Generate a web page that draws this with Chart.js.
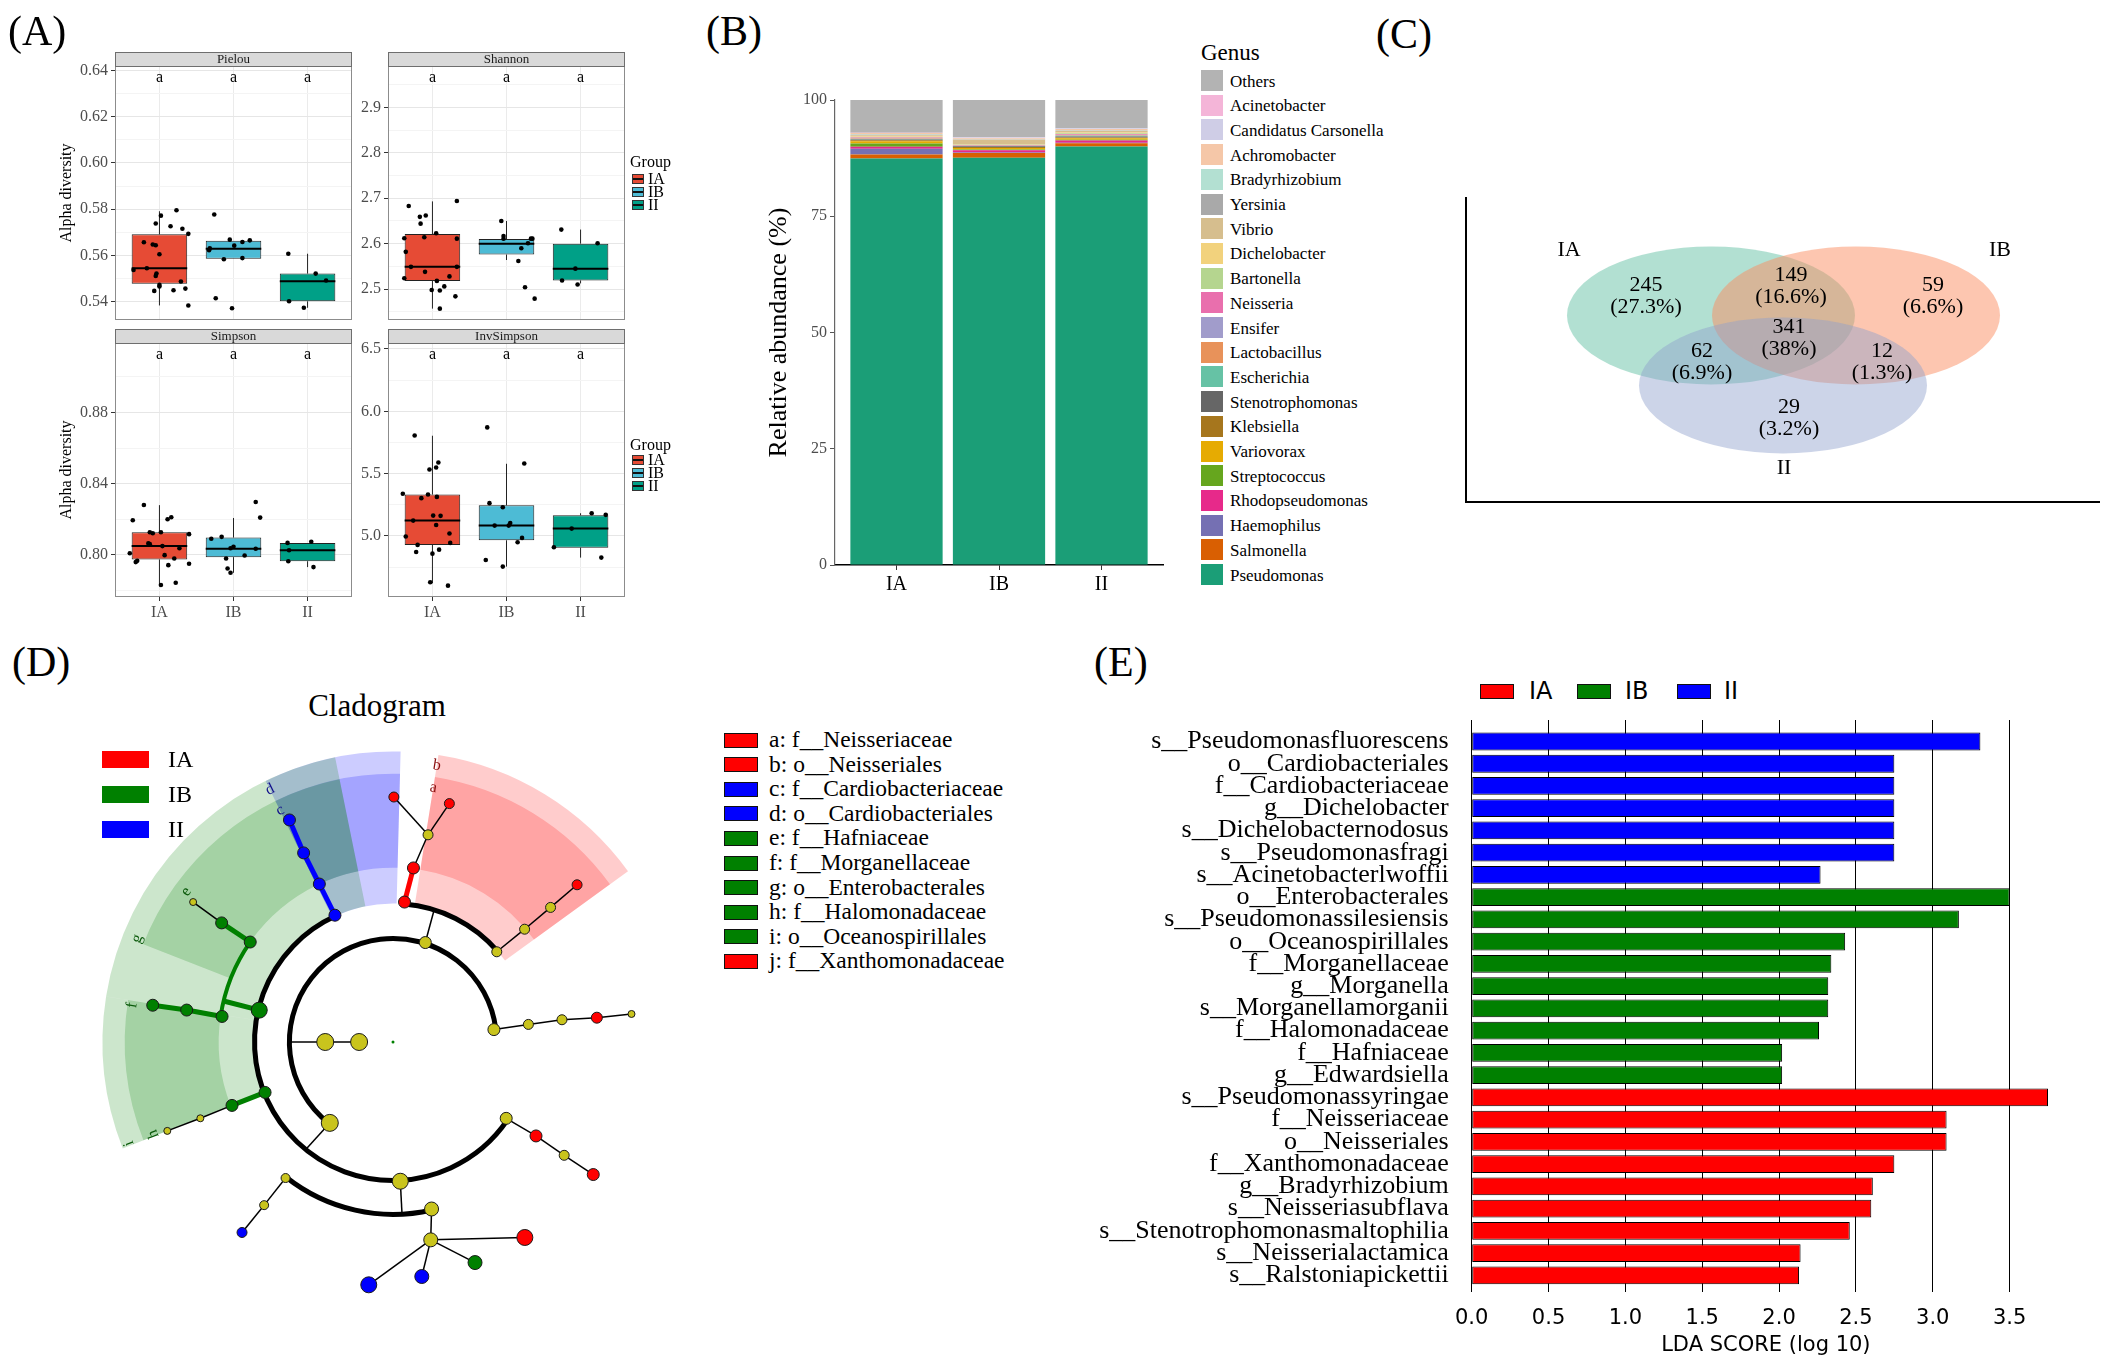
<!DOCTYPE html>
<html lang="en">
<head>
<meta charset="utf-8">
<title>Alpha diversity, genus composition, Venn, cladogram and LEfSe</title>
<script src="https://cdn.jsdelivr.net/npm/chart.js@4.4.1/dist/chart.umd.min.js"></script>
<style>
  html, body { margin: 0; background: #fff; }
  #fig { position: relative; width: 2104px; height: 1362px; overflow: hidden;
         font-family: "Liberation Serif", "Times New Roman", serif; color: #000; }
  #fig canvas { position: absolute; }
  .t { position: absolute; white-space: nowrap; line-height: 1; }
  .sw { position: absolute; box-sizing: border-box; }
  .gkey { position: absolute; box-sizing: border-box; width: 12px; height: 10px; border: 1px solid #333; }
  .gkey::after { content: ""; position: absolute; left: 0; right: 0; top: 3px; height: 1.5px; background: #111; }
</style>
</head>
<body>
<div id="fig">
  <canvas id="pielou" width="303" height="300" style="left:57px;top:40px"></canvas>
  <canvas id="shannon" width="283" height="300" style="left:350px;top:40px"></canvas>
  <canvas id="simpson" width="303" height="313" style="left:57px;top:317px"></canvas>
  <canvas id="invsimpson" width="283" height="313" style="left:350px;top:317px"></canvas>
  <canvas id="abund" width="410" height="520" style="left:760px;top:80px"></canvas>
  <canvas id="venn" width="658" height="330" style="left:1446px;top:180px"></canvas>
  <canvas id="clado" width="600" height="600" style="left:93px;top:742px"></canvas>
  <canvas id="lda" width="980" height="652" style="left:1085px;top:710px"></canvas>
</div>
<script>
// ---------- (A) alpha diversity ----------
const groups = ['IA', 'IB', 'II'];
const groupColors = ['#E64B35', '#4DBBD5', '#00A087'];
const sigLetters = ['a', 'a', 'a'];

const pielouTicks = [0.54, 0.56, 0.58, 0.60, 0.62, 0.64];
const pielouQ1 = [0.5477, 0.5585, 0.5401];
const pielouMed = [0.5544, 0.5629, 0.5488];
const pielouQ3 = [0.5691, 0.5663, 0.5521];
const pielouLo = [0.5383, 0.5585, 0.5373];
const pielouHi = [0.5791, 0.5663, 0.5607];
const pielouPts = [
  [0.5795, 0.5772, 0.5738, 0.5726, 0.5715, 0.5693, 0.5657, 0.5647, 0.5644, 0.5605, 0.5537, 0.5544, 0.5521, 0.5511, 0.5487, 0.5472, 0.5465, 0.5446, 0.5449, 0.5456, 0.5383],
  [0.5777, 0.5622, 0.5631, 0.5668, 0.5642, 0.5658, 0.5665, 0.5583, 0.5588, 0.5414, 0.5371],
  [0.5607, 0.5521, 0.5491, 0.5401, 0.5373]
];
const pielouJit = [
  [0.23, 0.02, -0.05, 0.15, 0.31, 0.39, -0.21, -0.09, -0.05, 0, -0.35, -0.17, -0.04, -0.05, 0.29, 0, 0, -0.07, 0.19, 0.35, 0.39],
  [-0.26, -0.33, -0.32, -0.05, 0.01, 0.12, 0.22, -0.13, 0.12, -0.24, -0.02],
  [-0.26, 0.11, 0.25, -0.25, -0.05]
];

const shannonTicks = [2.5, 2.6, 2.7, 2.8, 2.9];
const shannonQ1 = [2.518, 2.576, 2.519];
const shannonMed = [2.549, 2.600, 2.545];
const shannonQ3 = [2.621, 2.610, 2.600];
const shannonLo = [2.457, 2.564, 2.5125];
const shannonHi = [2.693, 2.650, 2.631];
const shannonPts = [
  [2.683, 2.659, 2.662, 2.644, 2.694, 2.623, 2.614, 2.612, 2.611, 2.582, 2.549, 2.549, 2.538, 2.524, 2.528, 2.518, 2.498, 2.497, 2.506, 2.484, 2.457],
  [2.650, 2.617, 2.611, 2.590, 2.601, 2.611, 2.611, 2.562, 2.504, 2.479],
  [2.631, 2.601, 2.545, 2.519, 2.510]
];
const shannonJit = [
  [-0.32, -0.17, -0.09, -0.16, 0.33, 0.05, -0.11, -0.38, 0.33, -0.36, -0.29, 0.33, -0.10, -0.38, 0.23, 0.06, -0.01, 0.10, 0.16, 0.31, 0.10],
  [-0.07, -0.04, -0.04, 0.2, 0.29, 0.33, 0.35, 0.16, 0.25, 0.38],
  [-0.26, 0.23, -0.07, -0.25, -0.04]
];

const simpsonTicks = [0.80, 0.84, 0.88];
const simpsonQ1 = [0.7974, 0.7987, 0.7964];
const simpsonMed = [0.8050, 0.8034, 0.8026];
const simpsonQ3 = [0.8127, 0.8097, 0.8067];
const simpsonLo = [0.7830, 0.7899, 0.7931];
const simpsonHi = [0.8279, 0.8207, 0.8067];
const simpsonPts = [
  [0.8280, 0.8194, 0.8200, 0.8211, 0.8127, 0.8121, 0.8127, 0.8116, 0.8064, 0.8060, 0.8049, 0.8037, 0.8009, 0.7998, 0.7979, 0.7966, 0.7959, 0.7950, 0.7942, 0.7830, 0.7843],
  [0.8297, 0.8209, 0.8090, 0.8101, 0.8045, 0.8037, 0.8034, 0.7996, 0.7979, 0.7923, 0.7899],
  [0.8067, 0.8073, 0.8026, 0.7964, 0.7931]
];
const simpsonJit = [
  [-0.21, -0.36, 0.11, 0.16, -0.13, -0.09, 0.02, 0.40, -0.15, -0.13, 0.04, 0.27, -0.40, 0.07, 0.20, -0.30, -0.32, 0.40, 0.12, 0.02, 0.22],
  [0.30, 0.36, -0.30, -0.16, 0, -0.04, 0.30, 0.15, -0.10, -0.08, -0.04],
  [-0.27, 0.05, -0.25, -0.26, 0.08]
];

const invTicks = [5.0, 5.5, 6.0, 6.5];
const invQ1 = [4.928, 4.965, 4.906];
const invMed = [5.123, 5.083, 5.059];
const invQ3 = [5.332, 5.246, 5.166];
const invLo = [4.620, 4.754, 4.826];
const invHi = [5.804, 5.579, 5.182];
const invPts = [
  [5.806, 5.533, 5.549, 5.589, 5.338, 5.303, 5.332, 5.313, 5.123, 5.163, 5.161, 5.088, 4.995, 5.019, 4.928, 4.944, 4.871, 4.890, 4.858, 4.628, 4.601],
  [5.871, 5.581, 5.263, 5.230, 5.083, 5.104, 5.083, 4.984, 4.949, 4.807, 4.754],
  [5.182, 5.169, 5.059, 4.909, 4.826]
];
const invJit = [
  [-0.24, -0.04, 0.05, 0.08, -0.40, -0.15, -0.06, 0.06, -0.26, 0.01, 0.11, 0.05, -0.36, 0.23, -0.20, 0.24, -0.22, 0.09, 0, -0.03, 0.21],
  [-0.26, 0.24, -0.23, -0.05, -0.16, 0.05, 0.03, 0.21, 0.15, -0.28, -0.05],
  [0.15, 0.34, -0.12, -0.36, 0.28]
];

// ---------- (B) genus composition, legend order (top -> bottom) ----------
const genusNames = ['Others', 'Acinetobacter', 'Candidatus Carsonella', 'Achromobacter', 'Bradyrhizobium', 'Yersinia',
  'Vibrio', 'Dichelobacter', 'Bartonella', 'Neisseria', 'Ensifer', 'Lactobacillus', 'Escherichia', 'Stenotrophomonas',
  'Klebsiella', 'Variovorax', 'Streptococcus', 'Rhodopseudomonas', 'Haemophilus', 'Salmonella', 'Pseudomonas'];
const genusColors = ['#b3b3b3', '#f4b5d8', '#cfcde6', '#f5c7a8', '#b3e0d2', '#a9a9a9', '#d6be8e', '#f2d27d', '#b5d58f',
  '#e96fad', '#a19ccb', '#e8925a', '#66c2a5', '#666666', '#a6761d', '#e6ab02', '#66a61e', '#e7298a', '#7570b3', '#d95f02', '#1b9e77'];
const abundIA = [7.02, 0.05, 0.05, 0.25, 0.1, 0.1, 0.3, 0.1, 0.1, 0.1, 0.1, 0.1, 0.1, 0.2, 0.2, 0.5, 0.7, 0.43, 1.2, 0.9, 87.4];
const abundIB = [8.0, 0.05, 0.2, 0.2, 0.05, 0.05, 1.0, 0.1, 0.05, 0.1, 0.05, 0.05, 0.05, 0.15, 0.2, 0.35, 0.15, 0.5, 0.1, 1.0, 87.6];
const abundII = [6.05, 0.05, 0.15, 0.3, 0.05, 0.05, 0.35, 0.15, 0.2, 0.2, 0.05, 0.1, 0.15, 0.2, 0.15, 0.35, 0.15, 0.5, 0.1, 0.7, 90.0];
const abundTicks = [0, 25, 50, 75, 100];

// ---------- (C) Venn ----------
const vennSets = ['IA', 'IB', 'II'];
const vennCounts = [245, 149, 59, 62, 341, 12, 29];   // IA, IA&IB, IB, IA&II, all, IB&II, II
const vennShare = ['27.3%', '16.6%', '6.6%', '6.9%', '38%', '1.3%', '3.2%'];

// ---------- (D) cladogram: nodes as (radius, angle in degrees) ----------
const cladeR = [0, 35, 70, 108, 106, 105, 145, 181, 217, 253, 253, 142, 179, 214, 250, 141, 176, 212, 248,
  144, 180, 216, 253, 142, 178.5, 215.6, 251, 180, 215.5, 252, 142, 178.7, 214, 250.5, 144, 179, 214.7, 251,
  177, 208, 243.5, 243, 244, 252, 141, 176.7, 212, 248, 107, 143, 141, 180, 178];
const cladeTheta = [0, 180, 180, 72, 232, 7, 85.3, 83.3, 80.4, 89.8, 76.7, 41, 40.6, 40.5, 40.5, 7.4, 7.5, 6.8, 6.7,
  114.6, 115, 115.3, 115, 166.6, 171.5, 171.2, 171.3, 145, 145.2, 145, 201.5, 201.5, 201.6, 201.5, 273, 231.7, 231.7, 231.6,
  283, 280.8, 304, 290.4, 277, 264.3, 326, 326.7, 326.5, 326.5, 180, 72.7, 231, 166.4, 273];
const cladeGroup = ['IB', 'y', 'y', 'y', 'y', 'y', 'IA', 'IA', 'y', 'IA', 'IA', 'y', 'y', 'y', 'IA', 'y', 'y', 'IA', 'y',
  'II', 'II', 'II', 'II', 'IB', 'IB', 'IB', 'IB', 'IB', 'IB', 'y', 'IB', 'IB', 'y', 'y', 'y', 'y', 'y', 'II',
  'y', 'y', 'IA', 'IB', 'II', 'II', 'y', 'IA', 'y', 'IA', '-', '-', '-', 'IB', '-'];
const cladeAbund = [1.5, 8.5, 8.5, 6, 8.5, 6, 6, 6, 5, 5, 5, 5, 5, 5, 5, 5, 5, 5.5, 3.5, 6, 6, 6, 6, 8, 6, 6, 6, 6, 6, 3.5,
  6, 6, 3.5, 3.5, 8, 4.5, 4.5, 5, 7, 7, 8, 7, 7, 8, 6, 6, 5, 6, 0, 0, 0, 0, 0];
const cladeEdges = [[1, 2], [2, 48], [3, 49], [6, 7], [7, 8], [8, 9], [8, 10], [11, 12], [12, 13], [13, 14], [5, 15], [15, 16],
  [16, 17], [17, 18], [4, 50], [19, 20], [20, 21], [21, 22], [23, 51], [24, 25], [25, 26], [27, 28], [28, 29], [30, 31], [31, 32],
  [32, 33], [34, 52], [35, 36], [36, 37], [38, 39], [39, 40], [39, 41], [39, 42], [39, 43], [44, 45], [45, 46], [46, 47]];
const cladeArcR = [107, 143, 143, 180, 178];
const cladeArcFrom = [7, 41, 114.6, 145, 231.7];
const cladeArcTo = [232, 85.3, 326, 171.5, 283];
const cladeArcGroup = ['y', 'y', 'y', 'IB', 'y'];
const sectorGroup = ['IA', 'IA', 'II', 'II', 'IB', 'IB', 'IB', 'IB'];
const sectorFrom = [36, 36, 88.5, 88.5, 101.5, 101.5, 171, 171];
const sectorTo = [81, 81, 116, 116, 171, 158.6, 201.5, 201.5];
const sectorRank = ['o', 'f', 'o', 'f', 'o', 'f', 'o', 'f'];
const cladeLabelLetter = ['a', 'b', 'c', 'd', 'e', 'f', 'g', 'h', 'i'];
const cladeLabelR = [266, 289, 266, 290, 264, 272, 285, 265, 292];
const cladeLabelTheta = [81, 81, 116, 116, 144, 172, 158, 201, 201];
const cladeLegendLetter = ['a', 'b', 'c', 'd', 'e', 'f', 'g', 'h', 'i', 'j'];
const cladeLegendName = ['f__Neisseriaceae', 'o__Neisseriales', 'f__Cardiobacteriaceae', 'o__Cardiobacteriales', 'f__Hafniaceae',
  'f__Morganellaceae', 'o__Enterobacterales', 'f__Halomonadaceae', 'o__Oceanospirillales', 'f__Xanthomonadaceae'];
const cladeLegendGroup = ['IA', 'IA', 'II', 'II', 'IB', 'IB', 'IB', 'IB', 'IB', 'IA'];

// ---------- (E) LDA scores ----------
const ldaTaxa = ['s__Pseudomonasfluorescens', 'o__Cardiobacteriales', 'f__Cardiobacteriaceae', 'g__Dichelobacter',
  's__Dichelobacternodosus', 's__Pseudomonasfragi', 's__Acinetobacterlwoffii', 'o__Enterobacterales', 's__Pseudomonassilesiensis',
  'o__Oceanospirillales', 'f__Morganellaceae', 'g__Morganella', 's__Morganellamorganii', 'f__Halomonadaceae', 'f__Hafniaceae',
  'g__Edwardsiella', 's__Pseudomonassyringae', 'f__Neisseriaceae', 'o__Neisseriales', 'f__Xanthomonadaceae', 'g__Bradyrhizobium',
  's__Neisseriasubflava', 's__Stenotrophomonasmaltophilia', 's__Neisserialactamica', 's__Ralstoniapickettii'];
const ldaScore = [3.31, 2.75, 2.75, 2.75, 2.75, 2.75, 2.27, 3.50, 3.17, 2.43, 2.34, 2.32, 2.32, 2.26, 2.02, 2.02,
  3.75, 3.09, 3.09, 2.75, 2.61, 2.60, 2.46, 2.14, 2.13];
const ldaGroup = ['II', 'II', 'II', 'II', 'II', 'II', 'II', 'IB', 'IB', 'IB', 'IB', 'IB', 'IB', 'IB', 'IB', 'IB',
  'IA', 'IA', 'IA', 'IA', 'IA', 'IA', 'IA', 'IA', 'IA'];
const ldaTicks = [0, 0.5, 1.0, 1.5, 2.0, 2.5, 3.0, 3.5];

// ---------- shared ----------
const SERIF = '"Liberation Serif", "Times New Roman", serif';
const SANS = '"DejaVu Sans", sans-serif';
const pure = { IA: '#ff0000', IB: '#008000', II: '#0000ff', y: '#c9c41d', '-': 'transparent' };
const shade = { IA: 'rgba(255,0,0,0.2)', IB: 'rgba(0,128,0,0.2)', II: 'rgba(0,0,255,0.2)' };
const ink = { IA: '#8b1010', IB: '#0a5a0a', II: '#10108b' };
const D2R = Math.PI / 180;

Chart.defaults.font.family = SERIF;
Chart.defaults.color = '#000';
Chart.defaults.animation = false;
Chart.defaults.responsive = false;
Chart.defaults.plugins.legend.display = false;
Chart.defaults.plugins.tooltip.enabled = false;

const fig = document.getElementById('fig');
function put(text, x, y, size, extra) {
  const d = document.createElement('div');
  d.className = 't';
  d.textContent = text;
  d.style.left = x + 'px';
  d.style.top = y + 'px';
  d.style.fontSize = size + 'px';
  d.style.transform = 'translateY(-50%)';
  if (extra) Object.assign(d.style, extra);
  fig.appendChild(d);
  return d;
}
function swatch(x, y, w, h, color, border) {
  const d = document.createElement('div');
  d.className = 'sw';
  Object.assign(d.style, { left: x + 'px', top: y + 'px', width: w + 'px', height: h + 'px', background: color, border: border || 'none' });
  fig.appendChild(d);
}
const noPad = s => { s.paddingTop = 0; s.paddingBottom = 0; s.paddingLeft = 0; s.paddingRight = 0; };

// ---------- (A) facets ----------
const facetDecor = {
  id: 'facetDecor',
  afterDatasetsDraw(chart, args, o) {
    const { ctx, chartArea: a, scales: { x } } = chart;
    ctx.save();
    ctx.strokeStyle = '#8c8c8c';
    ctx.lineWidth = 1;
    ctx.strokeRect(a.left + 0.5, a.top + 0.5, a.right - a.left - 1, a.bottom - a.top - 1);
    ctx.fillStyle = '#d9d9d9';
    ctx.fillRect(a.left, a.top - 14, a.right - a.left, 14);
    ctx.strokeStyle = '#6e6e6e';
    ctx.strokeRect(a.left + 0.5, a.top - 13.5, a.right - a.left - 1, 14);
    ctx.fillStyle = '#1a1a1a';
    ctx.font = '13px ' + SERIF;
    ctx.textAlign = 'center';
    ctx.textBaseline = 'middle';
    ctx.fillText(o.strip, (a.left + a.right) / 2, a.top - 6.5);
    ctx.fillStyle = '#000';
    ctx.font = '16px ' + SERIF;
    o.letters.forEach((l, i) => ctx.fillText(l, x.getPixelForValue(i + 1), a.top + 12));
    ctx.restore();
  }
};

function boxFacet(id, f) {
  const step = f.ticks[1] - f.ticks[0];
  const minor = [f.ticks[0] - step / 2, ...f.ticks.map(v => v + step / 2)].filter(v => v > f.min && v < f.max);
  const isMajor = v => f.ticks.some(t => Math.abs(t - v) < 1e-9);
  const whisk = [], mid = [], dots = [];
  groups.forEach((g, i) => {
    const c = i + 1;
    whisk.push({ x: c, y: f.lo[i] }, { x: c, y: f.q1[i] }, { x: c, y: null }, { x: c, y: f.q3[i] }, { x: c, y: f.hi[i] }, { x: c, y: null });
    mid.push({ x: c - 0.375, y: f.med[i] }, { x: c + 0.375, y: f.med[i] }, { x: c, y: null });
    f.pts[i].forEach((v, k) => dots.push({ x: c + f.jit[i][k], y: v }));
  });
  new Chart(document.getElementById(id), {
    type: 'bar',
    data: {
      datasets: [
        { type: 'scatter', data: dots, pointRadius: 2.3, pointBackgroundColor: '#000', pointBorderWidth: 0, order: 0 },
        { type: 'line', data: mid, borderColor: '#000', borderWidth: 2, pointRadius: 0, spanGaps: false, order: 1 },
        { type: 'bar', data: groups.map((g, i) => ({ x: i + 1, y: [f.q1[i], f.q3[i]] })), backgroundColor: groupColors,
          borderColor: '#222', borderWidth: 1, borderSkipped: false, barPercentage: 0.75, categoryPercentage: 1, order: 2 },
        { type: 'line', data: whisk, borderColor: '#222', borderWidth: 1, pointRadius: 0, spanGaps: false, order: 3 }
      ]
    },
    options: {
      layout: { padding: { top: 26, right: 8, bottom: f.bottom ? 6 : 20, left: 0 } },
      scales: {
        x: {
          type: 'linear', min: 0.4, max: 3.6, offset: false,
          afterBuildTicks: s => { s.ticks = groups.map((g, i) => ({ value: i + 1 })); },
          ticks: { display: f.bottom, callback: v => groups[v - 1], color: '#4d4d4d', font: { size: 16 }, padding: 2, autoSkip: false, maxRotation: 0 },
          grid: { offset: false, color: '#ebebeb', drawTicks: f.bottom, tickLength: 4, tickColor: '#333' },
          border: { display: false },
          afterFit: s => { s.height = f.bottom ? 27 : 0; noPad(s); }
        },
        y: {
          min: f.min, max: f.max,
          afterBuildTicks: s => { s.ticks = [...minor, ...f.ticks].sort((a, b) => a - b).map(v => ({ value: v })); },
          ticks: { callback: v => isMajor(v) ? v.toFixed(f.dec) : '', color: '#4d4d4d', font: { size: 16 }, padding: 3, autoSkip: false },
          grid: {
            color: c => isMajor(c.tick.value) ? '#e6e6e6' : '#f4f4f4',
            tickColor: c => isMajor(c.tick.value) ? '#333' : 'rgba(0,0,0,0)', tickLength: 4
          },
          border: { display: false },
          title: { display: !!f.title, text: f.title, font: { size: 16 }, padding: { top: 0, bottom: 0 } },
          afterFit: s => { s.width = f.yw; noPad(s); }
        }
      },
      plugins: { facetDecor: { strip: f.strip, letters: sigLetters } }
    },
    plugins: [facetDecor]
  });
}

boxFacet('pielou', { strip: 'Pielou', q1: pielouQ1, med: pielouMed, q3: pielouQ3, lo: pielouLo, hi: pielouHi, pts: pielouPts, jit: pielouJit,
  ticks: pielouTicks, min: 0.532, max: 0.642, dec: 2, yw: 58, title: 'Alpha diversity', bottom: false });
boxFacet('shannon', { strip: 'Shannon', q1: shannonQ1, med: shannonMed, q3: shannonQ3, lo: shannonLo, hi: shannonHi, pts: shannonPts, jit: shannonJit,
  ticks: shannonTicks, min: 2.432, max: 2.991, dec: 1, yw: 38, bottom: false });
boxFacet('simpson', { strip: 'Simpson', q1: simpsonQ1, med: simpsonMed, q3: simpsonQ3, lo: simpsonLo, hi: simpsonHi, pts: simpsonPts, jit: simpsonJit,
  ticks: simpsonTicks, min: 0.7763, max: 0.919, dec: 2, yw: 58, title: 'Alpha diversity', bottom: true });
boxFacet('invsimpson', { strip: 'InvSimpson', q1: invQ1, med: invMed, q3: invQ3, lo: invLo, hi: invHi, pts: invPts, jit: invJit,
  ticks: invTicks, min: 4.51, max: 6.548, dec: 1, yw: 38, bottom: true });

[[162, 179], [445, 460]].forEach(([yt, y0]) => {
  put('Group', 630, yt, 16);
  groups.forEach((g, i) => {
    const k = document.createElement('div');
    k.className = 'gkey';
    Object.assign(k.style, { left: '632px', top: (y0 + 13 * i - 5) + 'px', background: groupColors[i] });
    fig.appendChild(k);
    put(g, 648, y0 + 13 * i, 16);
  });
});

// ---------- (B) stacked relative abundance ----------
const abundance = [abundIA, abundIB, abundII];
new Chart(document.getElementById('abund'), {
  type: 'bar',
  data: {
    datasets: genusNames.map((name, k) => ({
      label: name,
      data: groups.map((g, i) => ({ x: i + 1, y: abundance[i][k] })),
      backgroundColor: genusColors[k], borderWidth: 0, stack: 'all', barPercentage: 0.9, categoryPercentage: 1
    })).reverse()
  },
  options: {
    layout: { padding: { top: 20, right: 7, bottom: 0, left: 0 } },
    scales: {
      x: {
        type: 'linear', min: 0.4, max: 3.6, offset: false,
        afterBuildTicks: s => { s.ticks = groups.map((g, i) => ({ value: i + 1 })); },
        ticks: { callback: v => groups[v - 1], font: { size: 20 }, color: '#000', padding: 3, autoSkip: false, maxRotation: 0 },
        grid: { offset: false, drawOnChartArea: false, tickLength: 5, tickColor: '#333' },
        border: { color: '#000', width: 1.5 },
        afterFit: s => { s.height = 35; noPad(s); }
      },
      y: {
        stacked: true, min: 0, max: 100,
        afterBuildTicks: s => { s.ticks = abundTicks.map(v => ({ value: v })); },
        ticks: { font: { size: 16 }, color: '#4d4d4d', padding: 3 },
        grid: { drawOnChartArea: false, tickLength: 5, tickColor: '#555' },
        border: { color: '#666', width: 1.2 },
        title: { display: true, text: 'Relative abundance (%)', font: { size: 26 }, padding: { top: 4, bottom: 0 } },
        afterFit: s => { s.width = 75; noPad(s); }
      }
    }
  }
});
put('Genus', 1201, 52, 23);
genusNames.forEach((name, k) => {
  const yc = 80.5 + 24.7 * k;
  swatch(1201, yc - 10.5, 22, 21, genusColors[k]);
  put(name, 1230, yc, 17);
});

// ---------- (C) Venn ----------
const vennLayout = {
  ellipses: [{ cx: 245, cy: 186.6, rx: 144, ry: 69 }, { cx: 390, cy: 186.6, rx: 144, ry: 69 }, { cx: 317, cy: 116.6, rx: 144, ry: 68 }],
  fills: ['rgba(102,194,165,0.5)', 'rgba(252,141,98,0.5)', 'rgba(141,160,203,0.45)'],
  setLabels: [[103, 251.6], [534, 251.6], [318, 33.6]],
  regions: [[180, 205.6], [325, 215.6], [467, 205.6], [236, 140.1], [323, 163.6], [416, 140.1], [323, 84.1]]
};
const vennPlugin = {
  id: 'venn',
  beforeDatasetsDraw(chart) {
    const { ctx, scales: { x, y } } = chart;
    ctx.save();
    vennLayout.ellipses.forEach((e, i) => {
      const px = x.getPixelForValue(e.cx), py = y.getPixelForValue(e.cy);
      ctx.beginPath();
      ctx.ellipse(px, py, x.getPixelForValue(e.cx + e.rx) - px, py - y.getPixelForValue(e.cy + e.ry), 0, 0, Math.PI * 2);
      ctx.fillStyle = vennLayout.fills[i];
      ctx.fill();
    });
    ctx.fillStyle = '#000';
    ctx.font = '22px ' + SERIF;
    ctx.textAlign = 'center';
    ctx.textBaseline = 'middle';
    vennLayout.setLabels.forEach(([lx, ly], i) => ctx.fillText(vennSets[i], x.getPixelForValue(lx), y.getPixelForValue(ly)));
    vennLayout.regions.forEach(([rx, ry], i) => {
      ctx.fillText(String(vennCounts[i]), x.getPixelForValue(rx), y.getPixelForValue(ry + 11));
      ctx.fillText('(' + vennShare[i] + ')', x.getPixelForValue(rx), y.getPixelForValue(ry - 11));
    });
    ctx.restore();
  }
};
new Chart(document.getElementById('venn'), {
  type: 'scatter',
  data: { datasets: [{ data: vennLayout.regions.map(([x, y]) => ({ x, y })), pointRadius: 0 }] },
  options: {
    layout: { padding: { left: 20, top: 18, right: 5, bottom: 8 } },
    scales: {
      x: { min: 0, max: 633, ticks: { display: false }, grid: { display: false }, border: { color: '#000', width: 2 }, afterFit: s => { s.height = 0; noPad(s); } },
      y: { min: 0, max: 304, ticks: { display: false }, grid: { display: false }, border: { color: '#000', width: 2 }, afterFit: s => { s.width = 0; noPad(s); } }
    }
  },
  plugins: [vennPlugin]
});

// ---------- (D) cladogram ----------
const rankRadii = { o: [143, 300], f: [180, 277] };
const cladoPlugin = {
  id: 'clado',
  beforeDatasetsDraw(chart) {
    const { ctx, scales: { x, y } } = chart;
    const cx = x.getPixelForValue(0), cy = y.getPixelForValue(0);
    const len = r => x.getPixelForValue(r) - cx;
    const pt = i => [x.getPixelForValue(cladeR[i] * Math.cos(cladeTheta[i] * D2R)), y.getPixelForValue(cladeR[i] * Math.sin(cladeTheta[i] * D2R))];
    ctx.save();
    sectorGroup.forEach((g, i) => {
      const [r1, r2] = rankRadii[sectorRank[i]];
      ctx.beginPath();
      ctx.arc(cx, cy, len(r2), -sectorFrom[i] * D2R, -sectorTo[i] * D2R, true);
      ctx.arc(cx, cy, len(r1), -sectorTo[i] * D2R, -sectorFrom[i] * D2R, false);
      ctx.closePath();
      ctx.fillStyle = shade[g];
      ctx.fill();
    });
    ctx.font = '16px ' + SERIF;
    ctx.textAlign = 'center';
    ctx.textBaseline = 'middle';
    cladeLabelLetter.forEach((l, i) => {
      const th = cladeLabelTheta[i] * D2R;
      ctx.save();
      ctx.translate(x.getPixelForValue(cladeLabelR[i] * Math.cos(th)), y.getPixelForValue(cladeLabelR[i] * Math.sin(th)));
      ctx.rotate((90 - cladeLabelTheta[i]) * D2R);
      ctx.fillStyle = ink[cladeLegendGroup[cladeLegendLetter.indexOf(l)]];
      ctx.fillText(l, 0, 0);
      ctx.restore();
    });
    ctx.lineCap = 'butt';
    cladeArcR.forEach((r, i) => {
      ctx.beginPath();
      ctx.arc(cx, cy, len(r), -cladeArcFrom[i] * D2R, -cladeArcTo[i] * D2R, true);
      ctx.strokeStyle = cladeArcGroup[i] === 'y' ? '#000' : pure[cladeArcGroup[i]];
      ctx.lineWidth = cladeArcGroup[i] === 'y' ? 5 : 4;
      ctx.stroke();
    });
    cladeEdges.forEach(([a, b]) => {
      const ga = cladeGroup[a], gb = cladeGroup[b];
      const sig = ga === gb && ga !== 'y' && ga !== '-';
      ctx.beginPath();
      ctx.moveTo(...pt(a));
      ctx.lineTo(...pt(b));
      ctx.strokeStyle = sig ? pure[ga] : '#000';
      ctx.lineWidth = sig ? 5 : 1.5;
      ctx.stroke();
    });
    ctx.restore();
  }
};
new Chart(document.getElementById('clado'), {
  type: 'scatter',
  data: {
    datasets: [{
      data: cladeR.map((r, i) => ({ x: r * Math.cos(cladeTheta[i] * D2R), y: r * Math.sin(cladeTheta[i] * D2R) })),
      pointRadius: cladeAbund,
      pointBackgroundColor: cladeGroup.map(g => pure[g]),
      pointBorderColor: '#1a1a1a',
      pointBorderWidth: cladeAbund.map(s => s > 2 ? 1 : 0)
    }]
  },
  options: {
    scales: { x: { display: false, min: -300, max: 300 }, y: { display: false, min: -300, max: 300 } }
  },
  plugins: [cladoPlugin]
});
put('Cladogram', 377, 705, 31, { transform: 'translate(-50%,-50%)' });
groups.forEach((g, i) => {
  swatch(102, 751 + 35 * i, 47, 17, pure[g]);
  put(g, 168, 759 + 35 * i, 24);
});
cladeLegendLetter.forEach((l, i) => {
  const yc = 740 + 24.6 * i;
  swatch(724, yc - 7.5, 34, 15, pure[cladeLegendGroup[i]], '1.5px solid #111');
  put(l + ': ' + cladeLegendName[i], 769, yc, 23.5);
});

// ---------- (E) LDA ----------
new Chart(document.getElementById('lda'), {
  type: 'bar',
  data: {
    datasets: [{
      data: ldaScore.map((v, i) => ({ x: v, y: i })),
      backgroundColor: ldaGroup.map(g => pure[g]),
      borderColor: '#000', borderWidth: 1, borderSkipped: false, barPercentage: 0.8, categoryPercentage: 1
    }]
  },
  options: {
    indexAxis: 'y',
    layout: { padding: { top: 10, right: 5, bottom: 0, left: 0 } },
    scales: {
      y: {
        type: 'linear', reverse: true, min: -0.966, max: 24.75, offset: false,
        afterBuildTicks: s => { s.ticks = ldaTaxa.map((t, i) => ({ value: i })); },
        ticks: { callback: v => ldaTaxa[v], font: { size: 26 }, color: '#000', padding: 23, autoSkip: false },
        grid: { display: false, drawTicks: false, offset: false },
        border: { display: false },
        afterFit: s => { s.width = 386.7; noPad(s); }
      },
      x: {
        min: 0, max: 3.828, offset: false,
        afterBuildTicks: s => { s.ticks = ldaTicks.map(v => ({ value: v })); },
        ticks: { callback: v => v.toFixed(1), font: { family: SANS, size: 21 }, color: '#000', padding: 14, autoSkip: false, maxRotation: 0 },
        grid: { color: '#000', lineWidth: 1, drawTicks: false, offset: false },
        border: { display: false },
        title: { display: true, text: 'LDA SCORE (log 10)', font: { family: SANS, size: 21 }, padding: { top: 0, bottom: 4 } },
        afterFit: s => { s.height = 70; noPad(s); }
      }
    }
  }
});
[[1480, 1529], [1577, 1625], [1677, 1724]].forEach(([sx, tx], i) => {
  swatch(sx, 683.5, 34, 15, pure[groups[i]], '1.5px solid #111');
  put(groups[i], tx, 691, 24, { fontFamily: SANS });
});

// ---------- panel tags ----------
put('(A)', 8, 31, 42);
put('(B)', 706, 31, 42);
put('(C)', 1376, 34, 42);
put('(D)', 12, 662, 42);
put('(E)', 1094, 662, 42);
</script>
</body>
</html>
